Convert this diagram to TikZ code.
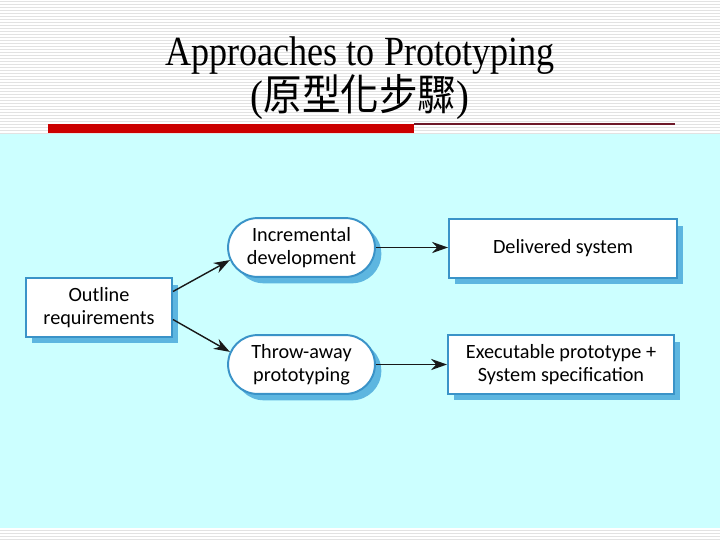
\documentclass[tikz,border=0pt]{standalone}
\usepackage{fontspec}
\usepackage{tikz}
\usetikzlibrary{arrows.meta,positioning,shapes.misc,shadows}
\newfontfamily\titlefont{Liberation Serif}
\newfontfamily\cjk{Noto Sans CJK TC}
\newfontfamily\boxfont{Carlito}
\definecolor{panelcyan}{HTML}{CCFFFF}
\definecolor{stripegrey}{HTML}{E2E2E2}
\definecolor{barred}{HTML}{CC0000}
\definecolor{maroon}{HTML}{6E1A2A}
\definecolor{edgeblue}{HTML}{3A93C8}
\definecolor{shadeblue}{HTML}{5DB6E0}
\tikzset{
  ar/.style={-{Stealth[length=4mm,width=2.8mm]},line width=1pt,black!90},
  stripe/.style={stripegrey,line width=0.6pt},
  box/.style={draw=edgeblue,line width=1.4pt,fill=white,align=center,inner sep=0pt,
    font=\boxfont\fontsize{14.4}{16}\selectfont,
    drop shadow={shadow xshift=0.16cm,shadow yshift=-0.16cm,fill=shadeblue,opacity=1}},
  pill/.style={box,rounded rectangle}
}
\begin{document}
\begin{tikzpicture}[x=0.025cm,y=-0.025cm]
\useasboundingbox (0,0) rectangle (720,540);
\fill[white] (0,0) rectangle (720,540);
% slide background
\foreach \y in {1,4,...,133} \draw[stripe] (0,\y) -- (720,\y);
\foreach \y in {530,533,...,540} \draw[stripe] (0,\y) -- (720,\y);
\fill[panelcyan] (0,134) rectangle (720,528);
\fill[barred] (48,123.5) rectangle (414,133);
\draw[maroon,line width=0.8pt] (414,124) -- (675,124);
% title
\node[anchor=base,xscale=0.87,font=\titlefont\fontsize{29.5}{32}\selectfont] (title) at (360,65) {Approaches to Prototyping};
\node[anchor=base,xscale=0.9,font=\titlefont\fontsize{30.5}{32}\selectfont] (subtitle) at (360,110) {({\cjk 原型化步驟})};
% boxes
\node[box,minimum width=3.65cm,minimum height=1.47cm] (outline) at (99,307.5) {Outline\\requirements};
\node[pill,minimum width=3.67cm,minimum height=1.47cm] (incr) at (301.5,247.5) {Incremental\\development};
\node[pill,minimum width=3.67cm,minimum height=1.47cm] (throw) at (301.5,364.5) {Throw-away\\prototyping};
\node[box,minimum width=5.7cm,minimum height=1.47cm] (deliv) at (563,248.5) {Delivered system};
\node[box,minimum width=5.65cm,minimum height=1.47cm] (exec) at (561,364.5) {Executable prototype +\\System specification};
% arrows
\draw[ar] ([yshift=0.4cm]outline.east) -- (incr.190);
\draw[ar] ([yshift=-0.3cm]outline.east) -- (throw.170);
\draw[ar] (incr.east) -- (incr.east -| deliv.west);
\draw[ar] (throw.east) -- (throw.east -| exec.west);
\end{tikzpicture}
\end{document}
